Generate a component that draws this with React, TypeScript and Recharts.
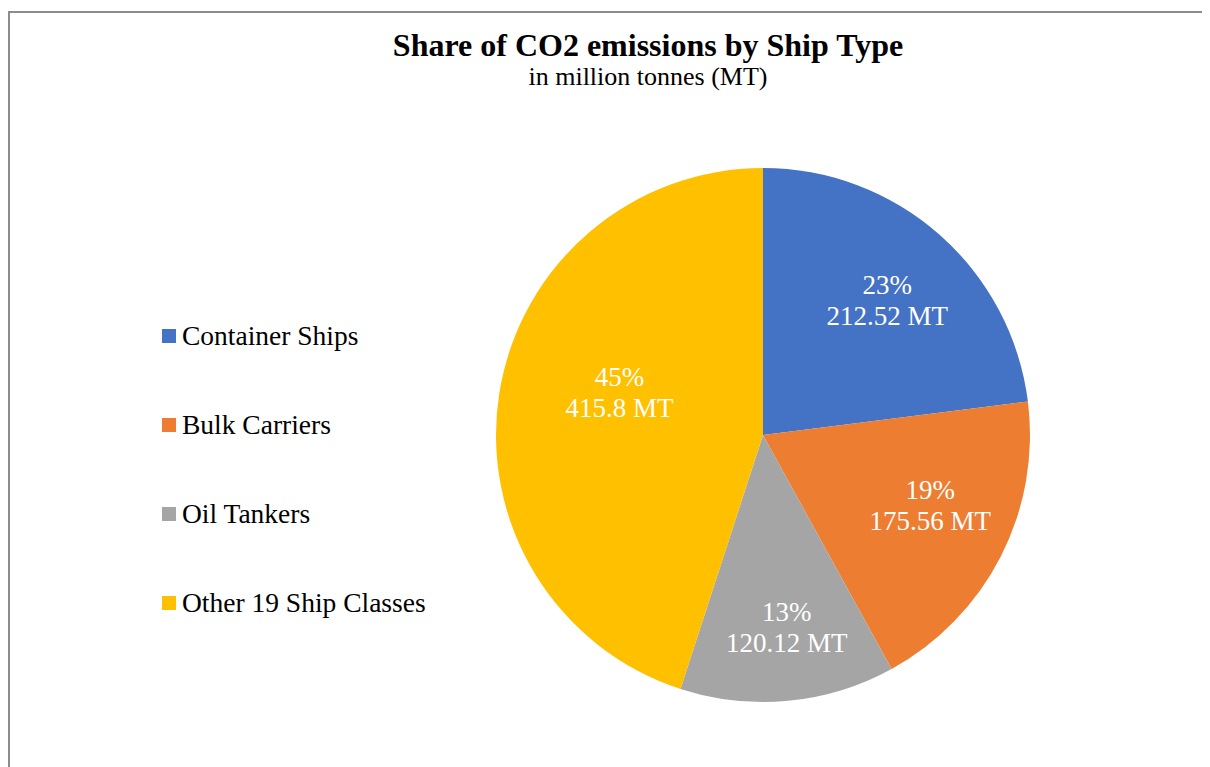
import React from "react";
import { PieChart, Pie, Cell } from "recharts";

const shipTypes = ["Container Ships", "Bulk Carriers", "Oil Tankers", "Other 19 Ship Classes"];
const emissionsMT = [212.52, 175.56, 120.12, 415.8];
const sliceColors = ["#4472C4", "#ED7D31", "#A5A5A5", "#FFC000"];
// label placement: share of the radius, and a small turn (degrees) off the slice middle
const labelRadius = [0.685, 0.68, 0.73, 0.56];
const labelTurn = [-1.4, 4.1, 1.6, -7.4];

const FONT = "'Liberation Serif', 'DejaVu Serif', serif";
const RADIAN = Math.PI / 180;

const data = shipTypes.map((name, i) => ({ name, value: emissionsMT[i] }));

function renderLabel(props: any): React.ReactElement {
  const { cx, cy, midAngle, outerRadius, percent, index, value } = props;
  const r = outerRadius * labelRadius[index];
  const a = (midAngle + labelTurn[index]) * RADIAN;
  const x = cx + r * Math.cos(-a);
  const y = cy + r * Math.sin(-a);
  return (
    <text x={x} y={y} fill="#ffffff" textAnchor="middle" fontFamily={FONT} fontSize={27}>
      <tspan x={x} dy={-7}>{`${Math.round(percent * 100)}%`}</tspan>
      <tspan x={x} dy={31}>{`${value} MT`}</tspan>
    </text>
  );
}

export default function App(): React.ReactElement {
  return (
    <div style={{ position: "relative", width: 1202, height: 759, background: "#fff" }}>
      <div
        style={{
          position: "absolute",
          left: 0,
          top: 3,
          width: 1202,
          height: 756,
          borderLeft: "2px solid #8c8c8c",
          borderTop: "2px solid #8c8c8c",
          boxSizing: "border-box",
        }}
      />
      <div
        style={{
          position: "absolute",
          left: 0,
          top: 20,
          width: 1280,
          textAlign: "center",
          fontFamily: FONT,
          color: "#000",
        }}
      >
        <div style={{ fontSize: 32, fontWeight: "bold", lineHeight: "34px" }}>Share of CO2 emissions by Ship Type</div>
        <div style={{ fontSize: 26, lineHeight: "30px" }}>in million tonnes (MT)</div>
      </div>
      <div
        style={{
          position: "absolute",
          left: 154,
          top: 283,
          fontFamily: FONT,
          fontSize: 27.5,
          color: "#000",
        }}
      >
        {data.map((d, i) => (
          <div key={d.name} style={{ display: "flex", alignItems: "center", height: 89 }}>
            <span style={{ width: 14, height: 14, background: sliceColors[i], marginRight: 6 }} />
            <span>{d.name}</span>
          </div>
        ))}
      </div>
      <div style={{ position: "absolute", left: 0, top: 0 }}>
        <PieChart width={1202} height={759}>
          <Pie
            data={data}
            dataKey="value"
            nameKey="name"
            cx={750}
            cy={422}
            outerRadius={267}
            startAngle={90}
            endAngle={-270}
            stroke="none"
            labelLine={false}
            label={renderLabel}
            isAnimationActive={false}
          >
            {data.map((d, i) => (
              <Cell key={d.name} fill={sliceColors[i]} />
            ))}
          </Pie>
        </PieChart>
      </div>
    </div>
  );
}
